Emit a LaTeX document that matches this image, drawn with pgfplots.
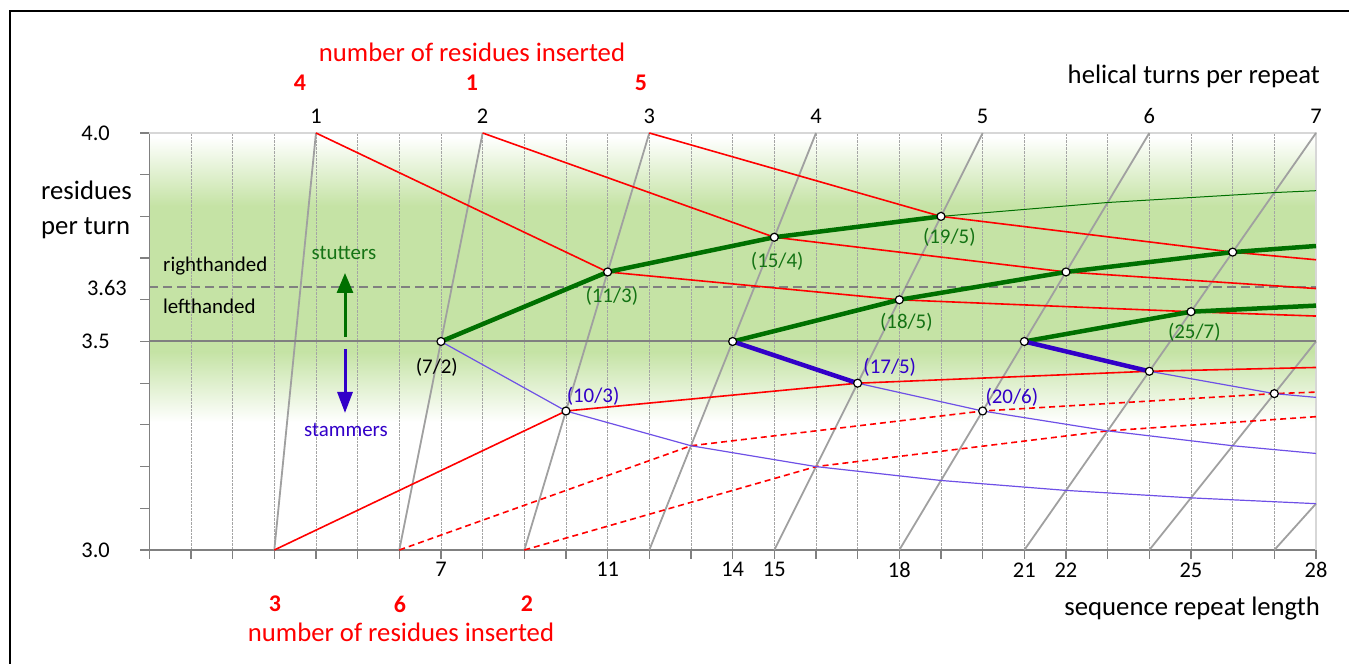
\documentclass[border=0pt]{standalone}
\usepackage{pgfplots}
\pgfplotsset{compat=1.18}
\usepackage{fontspec}
\setmainfont{Carlito}
\usetikzlibrary{arrows.meta}

\definecolor{bandgreen}{RGB}{197,227,165}
\definecolor{axisgray}{RGB}{128,128,128}
\definecolor{topgray}{RGB}{215,215,215}
\definecolor{turngray}{RGB}{160,160,160}
\definecolor{gridgray}{RGB}{165,165,165}
\definecolor{stutgreen}{RGB}{0,112,0}
\definecolor{labgreen}{RGB}{20,115,20}
\definecolor{stamblue}{RGB}{50,0,200}
\definecolor{thinblue}{RGB}{110,80,230}
\definecolor{insred}{RGB}{255,0,0}

\newcommand{\ttl}{\fontsize{26.8}{30}\selectfont}
\newcommand{\tck}{\fontsize{22.5}{26}\selectfont}
\newcommand{\ins}{\fontsize{24}{28}\selectfont\bfseries}
\newcommand{\ann}{\fontsize{21}{25}\selectfont}

\begin{document}
\begin{tikzpicture}[x=1bp,y=1bp]
\useasboundingbox (0,0) rectangle (1349,664);
% outer frame
\draw[black, line width=1.2bp] (10,0) -- (10,653) -- (1349,653);

% green band behind the plot area (y = 114 + (v-3)*417)
\shade[top color=white, bottom color=bandgreen] (149.3,458) rectangle (1316,527);
\fill[bandgreen] (149.3,312) rectangle (1316,458.1);
\shade[top color=bandgreen, bottom color=white] (149.3,242) rectangle (1316,312.1);

\begin{axis}[
  at={(149.3bp,114bp)}, anchor=south west,
  scale only axis, width=1166.7bp, height=417bp,
  xmin=0, xmax=28, ymin=3, ymax=4,
  clip=false,
  axis x line*=bottom, axis y line*=left,
  axis line style={axisgray, line width=1.5bp},
  xtick={0,...,28},
  xticklabels={,,,,,,,7,,,,11,,,14,15,,,18,,,21,22,,,25,,,28},
  ytick={3,3.1,3.2,3.3,3.4,3.5,3.6,3.7,3.8,3.9,4},
  yticklabels={3.0,,,,,3.5,,,,,4.0},
  tick align=outside,
  major tick length=9bp,
  tick style={axisgray, line width=1.2bp},
  xmajorgrids=true, ymajorgrids=false,
  grid style={gridgray, densely dotted, line width=0.8bp},
  tick label style={font=\tck, text=black},
  xticklabel style={yshift=0bp},
  yticklabel style={xshift=-27bp},
]
% light border at the top and right of the plot
\draw[topgray, line width=1.5bp] (axis cs:0,4) -- (axis cs:28,4) -- (axis cs:28,3);

% helical turns per repeat: x = turns * residues per turn
\addplot[turngray, line width=1.8bp] coordinates {(3,3) (4,4)};
\addplot[turngray, line width=1.8bp] coordinates {(6,3) (8,4)};
\addplot[turngray, line width=1.8bp] coordinates {(9,3) (12,4)};
\addplot[turngray, line width=1.8bp] coordinates {(12,3) (16,4)};
\addplot[turngray, line width=1.8bp] coordinates {(15,3) (20,4)};
\addplot[turngray, line width=1.8bp] coordinates {(18,3) (24,4)};
\addplot[turngray, line width=1.8bp] coordinates {(21,3) (28,4)};
\addplot[turngray, line width=1.8bp] coordinates {(24,3) (28,3.5)};
\addplot[turngray, line width=1.8bp] coordinates {(27,3) (28,3.1111)};

% heptad reference and handedness boundary
\addplot[axisgray, line width=2bp] coordinates {(0,3.5) (28,3.5)};
\addplot[axisgray, line width=1.6bp, dash pattern=on 9bp off 5bp] coordinates {(0,3.63) (28,3.63)};

% residues inserted into heptads
\addplot[insred, line width=1.6bp] coordinates {(4,4) (11,3.6667) (18,3.6) (25,3.5714) (28,3.561)};
\addplot[insred, line width=1.6bp] coordinates {(8,4) (15,3.75) (22,3.6667) (28,3.627)};
\addplot[insred, line width=1.6bp] coordinates {(12,4) (19,3.8) (26,3.7143) (28,3.696)};
\addplot[insred, line width=1.6bp] coordinates {(3,3) (10,3.3333) (17,3.4) (24,3.4286) (28,3.4377)};
\addplot[insred, line width=1.6bp, dash pattern=on 6bp off 4bp] coordinates {(6,3) (13,3.25) (20,3.3333) (27,3.375) (28,3.3786)};
\addplot[insred, line width=1.6bp, dash pattern=on 6bp off 4bp] coordinates {(9,3) (16,3.2) (23,3.2857) (28,3.3197)};

% stutters
\addplot[stutgreen, line width=1bp] coordinates {(19,3.8) (23,3.8333) (27,3.8571) (28,3.8616)};
\addplot[stutgreen, line width=4.5bp] coordinates {(7,3.5) (11,3.6667) (15,3.75) (19,3.8)};
\addplot[stutgreen, line width=4.5bp] coordinates {(14,3.5) (18,3.6) (22,3.6667) (26,3.7143) (28,3.729)};
\addplot[stutgreen, line width=4.5bp] coordinates {(21,3.5) (25,3.5714) (28,3.586)};

% stammers
\addplot[thinblue, line width=1.2bp] coordinates {(7,3.5) (10,3.3333) (13,3.25) (16,3.2) (19,3.1667) (22,3.1429) (25,3.125) (28,3.1111)};
\addplot[thinblue, line width=1.2bp] coordinates {(17,3.4) (20,3.3333) (23,3.2857) (26,3.25) (28,3.2315)};
\addplot[thinblue, line width=1.2bp] coordinates {(24,3.4286) (27,3.375) (28,3.366)};
\addplot[stamblue, line width=4.5bp] coordinates {(14,3.5) (17,3.4)};
\addplot[stamblue, line width=4.5bp] coordinates {(21,3.5) (24,3.4286)};

% repeats
\addplot[only marks, mark=*, mark size=4bp, mark options={fill=white, draw=black, line width=1.2bp}]
  coordinates {(7,3.5) (11,3.6667) (15,3.75) (19,3.8) (14,3.5) (18,3.6) (22,3.6667) (26,3.7143)
               (21,3.5) (25,3.5714) (10,3.3333) (17,3.4) (20,3.3333) (24,3.4286) (27,3.375)};

% repeat labels
\node[font=\ann, text=black] at (axis cs:6.9,3.5) [yshift=-26bp] {(7/2)};
\node[font=\ann, text=labgreen] at (axis cs:11.1,3.6667) [yshift=-24bp] {(11/3)};
\node[font=\ann, text=labgreen] at (axis cs:15.07,3.75) [yshift=-24bp] {(15/4)};
\node[font=\ann, text=labgreen] at (axis cs:19.2,3.8) [yshift=-21bp] {(19/5)};
\node[font=\ann, text=labgreen] at (axis cs:18.17,3.6) [yshift=-23bp] {(18/5)};
\node[font=\ann, text=labgreen] at (axis cs:25.08,3.5714) [yshift=-21bp] {(25/7)};
\node[font=\ann, text=stamblue] at (axis cs:10.65,3.3333) [yshift=15bp] {(10/3)};
\node[font=\ann, text=stamblue] at (axis cs:17.77,3.4) [yshift=16bp] {(17/5)};
\node[font=\ann, text=stamblue] at (axis cs:20.7,3.3333) [yshift=14bp] {(20/6)};

% helical turns per repeat
\node[font=\tck] at (axis cs:4,4) [yshift=17bp] {1};
\node[font=\tck] at (axis cs:8,4) [yshift=17bp] {2};
\node[font=\tck] at (axis cs:12,4) [yshift=17bp] {3};
\node[font=\tck] at (axis cs:16,4) [yshift=17bp] {4};
\node[font=\tck] at (axis cs:20,4) [yshift=17bp] {5};
\node[font=\tck] at (axis cs:24,4) [yshift=17bp] {6};
\node[font=\tck] at (axis cs:28,4) [yshift=17bp] {7};
\end{axis}

% boundary value between right- and lefthanded
\node[font=\tck, anchor=east, inner sep=0pt] at (127,376) {3.63};

% titles and annotations
\node[font=\ttl, anchor=west, inner sep=0pt] at (41,474) {residues};
\node[font=\ttl, anchor=west, inner sep=0pt] at (41,436) {per turn};
\node[font=\ann, anchor=west, inner sep=0pt] at (163,398) {righthanded};
\node[font=\ann, anchor=west, inner sep=0pt] at (163,358) {lefthanded};
\node[font=\ann, text=labgreen] at (344,411) {stutters};
\node[font=\ann, text=stamblue] at (346,234) {stammers};
\draw[stutgreen, line width=3bp, -{Triangle[length=20bp, width=16bp]}] (345,327) -- (345,391);
\draw[stamblue, line width=3bp, -{Triangle[length=21bp, width=15bp]}] (345,315) -- (345,251);

\node[font=\ttl, text=insred] at (472,612) {number of residues inserted};
\node[font=\ins, text=insred] at (300,581) {4};
\node[font=\ins, text=insred] at (472,581) {1};
\node[font=\ins, text=insred] at (641,581) {5};
\node[font=\ins, text=insred] at (275,60) {3};
\node[font=\ins, text=insred] at (400,60) {6};
\node[font=\ins, text=insred] at (527,60) {2};
\node[font=\ttl, text=insred] at (401,32) {number of residues inserted};

\node[font=\ttl, anchor=east, inner sep=0pt] at (1320,588) {helical turns per repeat};
\node[font=\ttl, anchor=east, inner sep=0pt] at (1320,55) {sequence repeat length};
\end{tikzpicture}
\end{document}
